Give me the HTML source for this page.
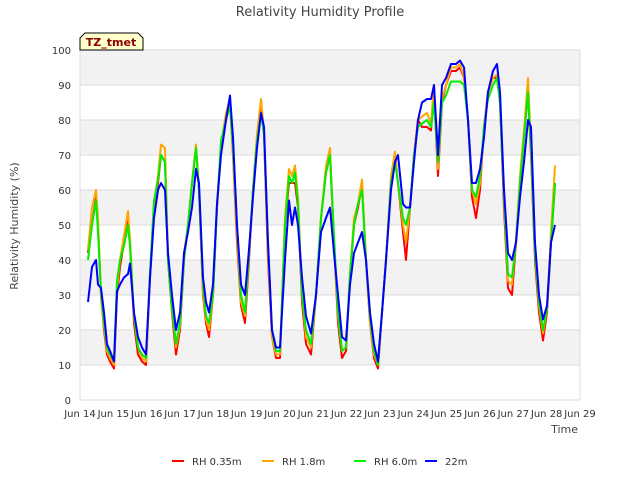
<!DOCTYPE html>
<html><head><meta charset="utf-8"><style>
body{margin:0;background:#fff;font-family:"Liberation Sans","DejaVu Sans",sans-serif}
svg text{font-family:"DejaVu Sans","Liberation Sans",sans-serif}
</style></head><body>
<svg id="chart" width="640" height="480" xmlns="http://www.w3.org/2000/svg">
<g id="bands"></g><g id="grid"></g><g id="axes"></g><g id="series"></g>
<text x="320" y="16" text-anchor="middle" font-size="13" fill="#444">Relativity Humidity Profile</text>
<text transform="translate(18,226) rotate(-90)" text-anchor="middle" font-size="11" fill="#444">Relativity Humidity (%)</text>
<text x="578" y="433" text-anchor="end" font-size="11" fill="#444">Time</text>
<g>
<path d="M80,50 L80,38 L85,33 L138,33 L143,38 L143,50 Z" fill="#ffffcc" stroke="#000" stroke-width="1"/>
<text x="111" y="46" text-anchor="middle" font-size="11" font-weight="bold" fill="#8b0000">TZ_tmet</text>
</g>
<g id="legend"></g>
</svg>
<script>
const times=[0.24,0.36,0.48,0.54,0.63,0.72,0.81,0.9,1.02,1.11,1.2,1.32,1.44,1.5,1.62,1.74,1.86,1.98,2.1,2.22,2.34,2.43,2.55,2.64,2.76,2.88,3.0,3.12,3.24,3.36,3.48,3.57,3.69,3.78,3.87,3.99,4.11,4.23,4.38,4.5,4.59,4.71,4.83,4.95,5.07,5.19,5.31,5.43,5.52,5.64,5.76,5.88,6.0,6.15,6.27,6.36,6.45,6.54,6.66,6.78,6.93,7.08,7.23,7.38,7.5,7.62,7.74,7.86,7.98,8.1,8.22,8.34,8.46,8.58,8.7,8.82,8.94,9.06,9.18,9.33,9.45,9.54,9.69,9.78,9.9,10.02,10.14,10.26,10.41,10.53,10.62,10.74,10.86,10.98,11.13,11.28,11.4,11.52,11.64,11.76,11.88,12.0,12.12,12.24,12.39,12.51,12.6,12.72,12.84,12.96,13.08,13.2,13.32,13.44,13.53,13.65,13.77,13.89,14.01,14.13,14.25];
const rh035=[42,50,58,50,30,20,13,11,9,30,38,45,52,45,22,13,11,10,35,55,62,70,68,40,25,13,20,40,50,62,72,60,30,22,18,30,55,72,80,85,70,45,27,22,40,60,75,83,76,40,18,12,12,50,62,62,62,55,28,16,13,30,52,65,70,45,22,12,14,35,50,55,62,40,22,12,9,25,40,62,70,62,48,40,55,70,80,78,78,77,88,64,85,90,94,94,95,92,80,58,52,60,78,88,92,92,85,55,32,30,45,62,75,88,70,40,25,17,25,45,62];
const rh18=[43,55,60,52,30,21,14,12,10,32,40,47,54,46,24,15,12,11,36,56,64,73,72,42,26,15,21,42,50,62,73,60,31,23,20,30,56,73,82,86,70,47,28,24,42,60,76,86,77,42,18,13,13,52,66,64,67,58,30,18,15,30,52,67,72,45,24,14,15,36,52,56,63,40,22,13,10,25,40,64,71,62,50,45,55,70,80,81,82,79,90,66,86,90,95,95,96,92,80,60,56,62,78,88,92,93,85,58,34,33,46,64,77,92,72,42,27,19,26,48,67];
const rh60=[40,50,57,48,31,22,15,13,11,34,40,44,50,44,24,15,13,12,36,57,63,70,68,40,26,16,22,40,50,62,72,60,33,24,22,30,55,74,80,84,72,50,30,25,42,60,74,82,76,45,20,14,14,50,64,62,65,56,30,20,16,30,52,65,70,47,25,14,15,36,50,56,60,40,24,14,10,25,40,62,68,62,52,50,55,70,78,79,80,78,85,68,85,87,91,91,91,90,80,60,58,64,78,86,90,92,85,58,36,35,45,62,75,88,72,42,28,20,26,45,62];
const rh22=[28,38,40,33,32,25,16,14,11,31,33,35,36,39,25,18,15,13,35,52,60,62,60,42,30,20,25,42,48,55,66,62,35,28,25,33,56,70,80,87,75,50,33,30,43,58,72,82,78,45,20,15,15,40,57,50,55,50,35,24,19,30,48,52,55,42,30,18,17,33,42,45,48,40,25,16,11,25,40,60,68,70,56,55,55,68,80,85,86,86,90,70,90,92,96,96,97,95,80,62,62,66,75,88,94,96,88,60,42,40,45,58,68,80,78,45,30,23,27,45,50];
const yTicks=[0,10,20,30,40,50,60,70,80,90,100];
const xTickDays=[0,1,2,3,4,5,6,7,8,9,10,11,12,13,14,15];
const xTickLabels=["Jun 14","Jun 15","Jun 16","Jun 17","Jun 18","Jun 19","Jun 20","Jun 21","Jun 22","Jun 23","Jun 24","Jun 25","Jun 26","Jun 27","Jun 28","Jun 29"];
const seriesNames=["RH 0.35m","RH 1.8m","RH 6.0m","22m"];
const seriesColors=["#ff0000","#ffa500","#00ee00","#0000ff"];
const seriesData=[rh035,rh18,rh60,rh22];

const L=80,R=580,T=50,B=400;
const xS=d=>L+d*(R-L)/15;
const yS=v=>B-v*(B-T)/100;
const NS="http://www.w3.org/2000/svg";
function mk(tag,attrs,parent){const e=document.createElementNS(NS,tag);for(const k in attrs)e.setAttribute(k,attrs[k]);parent.appendChild(e);return e;}
const bands=document.getElementById('bands'),grid=document.getElementById('grid'),axes=document.getElementById('axes'),ser=document.getElementById('series'),leg=document.getElementById('legend');
mk('rect',{x:L,y:T,width:R-L,height:B-T,fill:'#fff'},bands);
for(let i=1;i<yTicks.length;i+=2){
  const r=mk('rect',{x:L,y:yS(yTicks[i+1]!==undefined?yTicks[i+1]:100),width:R-L,height:yS(yTicks[i])-yS(yTicks[i+1]!==undefined?yTicks[i+1]:100),fill:'#f2f2f2'},bands);
  
  
}
yTicks.forEach(v=>{
  const l=mk('line',{x1:L,x2:R,y1:yS(v),y2:yS(v),stroke:'#dcdcdc','stroke-width':1},grid);
  
  
  const t=mk('text',{x:71,y:yS(v)+4,'text-anchor':'end','font-size':10,fill:'#333'},axes);
  
  
  t.textContent=v;
});
mk('line',{x1:L,x2:L,y1:T,y2:B,stroke:'#dcdcdc'},grid);
mk('line',{x1:R,x2:R,y1:T,y2:B,stroke:'#dcdcdc'},grid);
xTickDays.forEach((d,i)=>{
  const t=mk('text',{x:xS(d),y:417,'text-anchor':'middle','font-size':10,fill:'#333'},axes);
  
  
  t.textContent=xTickLabels[i];
});
seriesData.forEach((arr,s)=>{
  const pts=arr.map((v,i)=>xS(times[i]).toFixed(1)+','+yS(v).toFixed(1)).join(' ');
  const p=mk('polyline',{points:pts,fill:'none',stroke:seriesColors[s],'stroke-width':2,'stroke-linejoin':'round'},ser);
  
  
});
const legX=[172,262,354,425];
seriesNames.forEach((n,s)=>{
  const g=mk('g',{},leg);
  
  
  mk('line',{x1:legX[s],x2:legX[s]+12,y1:461,y2:461,stroke:seriesColors[s],'stroke-width':2},g);
  const t=mk('text',{x:legX[s]+20,y:465,'font-size':10,fill:'#333'},g);
  t.textContent=n;
});
</script>
</body></html>
